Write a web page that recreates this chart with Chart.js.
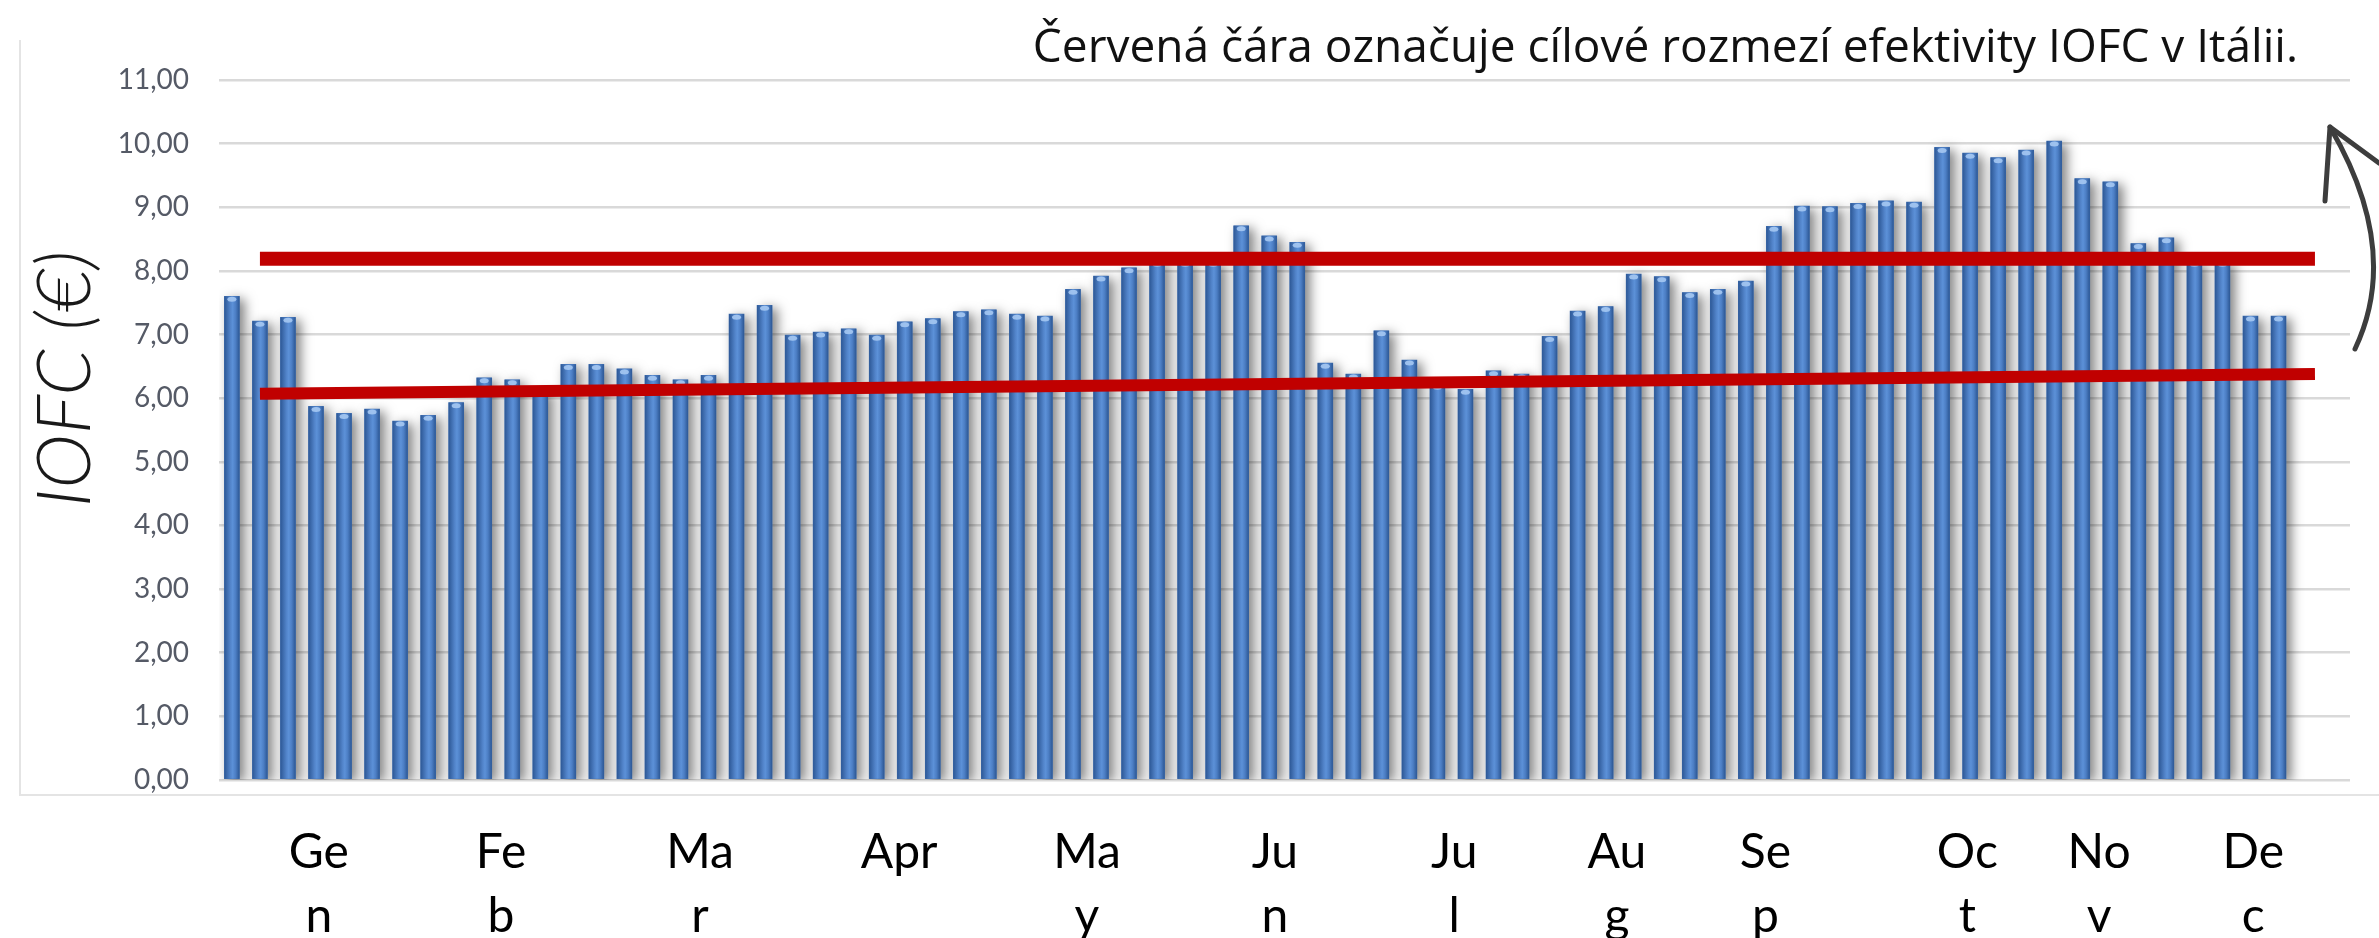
<!DOCTYPE html>
<html>
<head>
<meta charset="utf-8">
<script src="https://cdn.jsdelivr.net/npm/chart.js@4.4.0/dist/chart.umd.min.js"></script>
<style>
  html, body { margin: 0; padding: 0; background: #fff; }
  #wrap { width: 2379px; height: 938px; }
</style>
</head>
<body>
<div id="wrap"><canvas id="iofcChart" width="2379" height="938"></canvas></div>
<script>
// weekly IOFC values (€), Jan -> Dec
const iofc = [
  7.60, 7.21, 7.27, 5.87, 5.76, 5.83, 5.64, 5.73, 5.93, 6.32, 6.29, 6.12, 6.53, 6.53, 6.46,
  6.36, 6.29, 6.36, 7.32, 7.46, 6.99, 7.04, 7.09, 6.99, 7.20, 7.25, 7.36, 7.39, 7.32, 7.29,
  7.71, 7.92, 8.05, 8.15, 8.15, 8.15, 8.71, 8.55, 8.45, 6.55, 6.38, 7.06, 6.60, 6.22, 6.14,
  6.43, 6.38, 6.97, 7.37, 7.44, 7.95, 7.91, 7.66, 7.71, 7.84, 8.70, 9.02, 9.01, 9.06, 9.10,
  9.08, 9.94, 9.85, 9.78, 9.90, 10.04, 9.45, 9.40, 8.43, 8.52, 8.15, 8.15, 7.29, 7.29
];

// month labels (wrapped like in the original) and the week index they sit under
const monthLabels = [
  ['Ge', 'n'], ['Fe', 'b'], ['Ma', 'r'], 'Apr', ['Ma', 'y'], ['Ju', 'n'],
  ['Ju', 'l'], ['Au', 'g'], ['Se', 'p'], ['Oc', 't'], ['No', 'v'], ['De', 'c']
];
const monthTicks = [3.1, 9.6, 16.7, 23.8, 30.5, 37.2, 43.6, 49.4, 54.7, 61.9, 66.6, 72.1];

// red target band (start / end week index)
const targetX = [1.0, 74.3];
const targetHigh = [8.19, 8.19];
const targetLow = [6.07, 6.38];

const noteText = 'Červená čára označuje cílové rozmezí efektivity IOFC v Itálii.';
const yTitle = 'IOFC (€)';

const toPoints = (xs, ys) => xs.map((x, i) => ({ x: x, y: ys[i] }));

const decor = {
  id: 'decor',
  beforeDraw(chart) {
    const ctx = chart.ctx;
    ctx.save();
    ctx.fillStyle = '#fff';
    ctx.fillRect(0, 0, chart.width, chart.height);
    // faint frame of the pasted chart picture
    ctx.strokeStyle = '#e4e4e4';
    ctx.lineWidth = 2;
    ctx.beginPath();
    ctx.moveTo(20, 40);
    ctx.lineTo(20, 795);
    ctx.lineTo(chart.width, 795);
    ctx.stroke();
    ctx.restore();
  },
  beforeDatasetDraw(chart, args) {
    if (args.index !== 0) return;
    const ctx = chart.ctx;
    ctx.save();
    ctx.shadowColor = 'rgba(0,0,0,0.5)';
    ctx.shadowBlur = 12;
    ctx.shadowOffsetX = 5;
    ctx.shadowOffsetY = 3;
  },
  afterDatasetDraw(chart, args) {
    if (args.index !== 0) return;
    const ctx = chart.ctx;
    ctx.restore();
    // cylinder look: darker edges, lighter middle, light cap
    args.meta.data.forEach(el => {
      const { x, y, base, width } = el.getProps(['x', 'y', 'base', 'width'], true);
      const g = ctx.createLinearGradient(x - width / 2, 0, x + width / 2, 0);
      g.addColorStop(0, '#2d5896');
      g.addColorStop(0.4, '#5284ca');
      g.addColorStop(0.55, '#5c91d8');
      g.addColorStop(0.75, '#4c7ec4');
      g.addColorStop(1, '#2c5794');
      ctx.fillStyle = g;
      ctx.fillRect(x - width / 2, y, width, base - y);
      ctx.fillStyle = 'rgba(165,200,242,0.9)';
      ctx.beginPath();
      ctx.ellipse(x, y + 3, width / 2 - 3, 2.5, 0, 0, Math.PI * 2);
      ctx.fill();
    });
  },
  afterDraw(chart) {
    const ctx = chart.ctx;
    ctx.save();
    // note at the top right
    ctx.fillStyle = '#111';
    ctx.font = '46px "Open Sans"';
    ctx.textAlign = 'right';
    ctx.textBaseline = 'alphabetic';
    ctx.fillText(noteText, 2298, 62);

    // rotated axis title
    ctx.save();
    ctx.translate(66, 379);
    ctx.rotate(-Math.PI / 2);
    ctx.font = 'italic 300 74px Lato';
    ctx.textAlign = 'center';
    ctx.textBaseline = 'middle';
    ctx.fillStyle = '#1a1a1a';
    ctx.fillText(yTitle, 0, 0);
    ctx.restore();

    // hand drawn arrow on the right
    ctx.strokeStyle = '#3d3d3d';
    ctx.lineWidth = 5;
    ctx.lineCap = 'round';
    ctx.lineJoin = 'round';
    ctx.beginPath();
    ctx.moveTo(2355, 349);
    ctx.quadraticCurveTo(2402, 250, 2330, 127);
    ctx.stroke();
    ctx.beginPath();
    ctx.moveTo(2325, 201);
    ctx.lineTo(2330, 127);
    ctx.lineTo(2379, 163);
    ctx.stroke();
    ctx.restore();
  }
};

new Chart(document.getElementById('iofcChart'), {
  type: 'bar',
  data: {
    datasets: [
      {
        label: 'IOFC',
        data: iofc.map((v, i) => ({ x: i, y: v })),
        backgroundColor: '#3f6fb2',
        barThickness: 15,
        order: 1
      },
      {
        type: 'line',
        label: 'target high',
        data: toPoints(targetX, targetHigh),
        borderColor: '#c00000',
        borderWidth: 14,
        borderCapStyle: 'butt',
        pointRadius: 0,
        order: 0
      },
      {
        type: 'line',
        label: 'target low',
        data: toPoints(targetX, targetLow),
        borderColor: '#c00000',
        borderWidth: 12,
        borderCapStyle: 'butt',
        pointRadius: 0,
        order: 0
      }
    ]
  },
  options: {
    responsive: false,
    animation: false,
    devicePixelRatio: 1,
    layout: { padding: { top: 80, right: 29, left: 0, bottom: 0 } },
    plugins: {
      legend: { display: false },
      tooltip: { enabled: false },
      title: { display: false }
    },
    scales: {
      x: {
        type: 'linear',
        bounds: 'data',
        min: -0.46,
        max: 75.55,
        offset: false,
        grid: { display: false },
        border: { display: false },
        afterBuildTicks: s => { s.ticks = monthTicks.map(v => ({ value: v })); },
        afterFit: s => { s.height = 158; },
        ticks: {
          autoSkip: false,
          maxRotation: 0,
          padding: 33,
          color: '#000',
          font: { family: 'Lato', size: 48, lineHeight: 1.32 },
          callback: (v, i) => monthLabels[i]
        }
      },
      y: {
        min: 0,
        max: 11,
        afterFit: s => { s.width = 219; },
        grid: { color: '#d9d9d9', lineWidth: 2.5, drawTicks: false },
        border: { display: false },
        ticks: {
          stepSize: 1,
          padding: 30,
          color: '#555a66',
          font: { family: 'Lato', size: 28 },
          callback: v => v.toFixed(2).replace('.', ',')
        }
      }
    }
  },
  plugins: [decor]
});
</script>
</body>
</html>
